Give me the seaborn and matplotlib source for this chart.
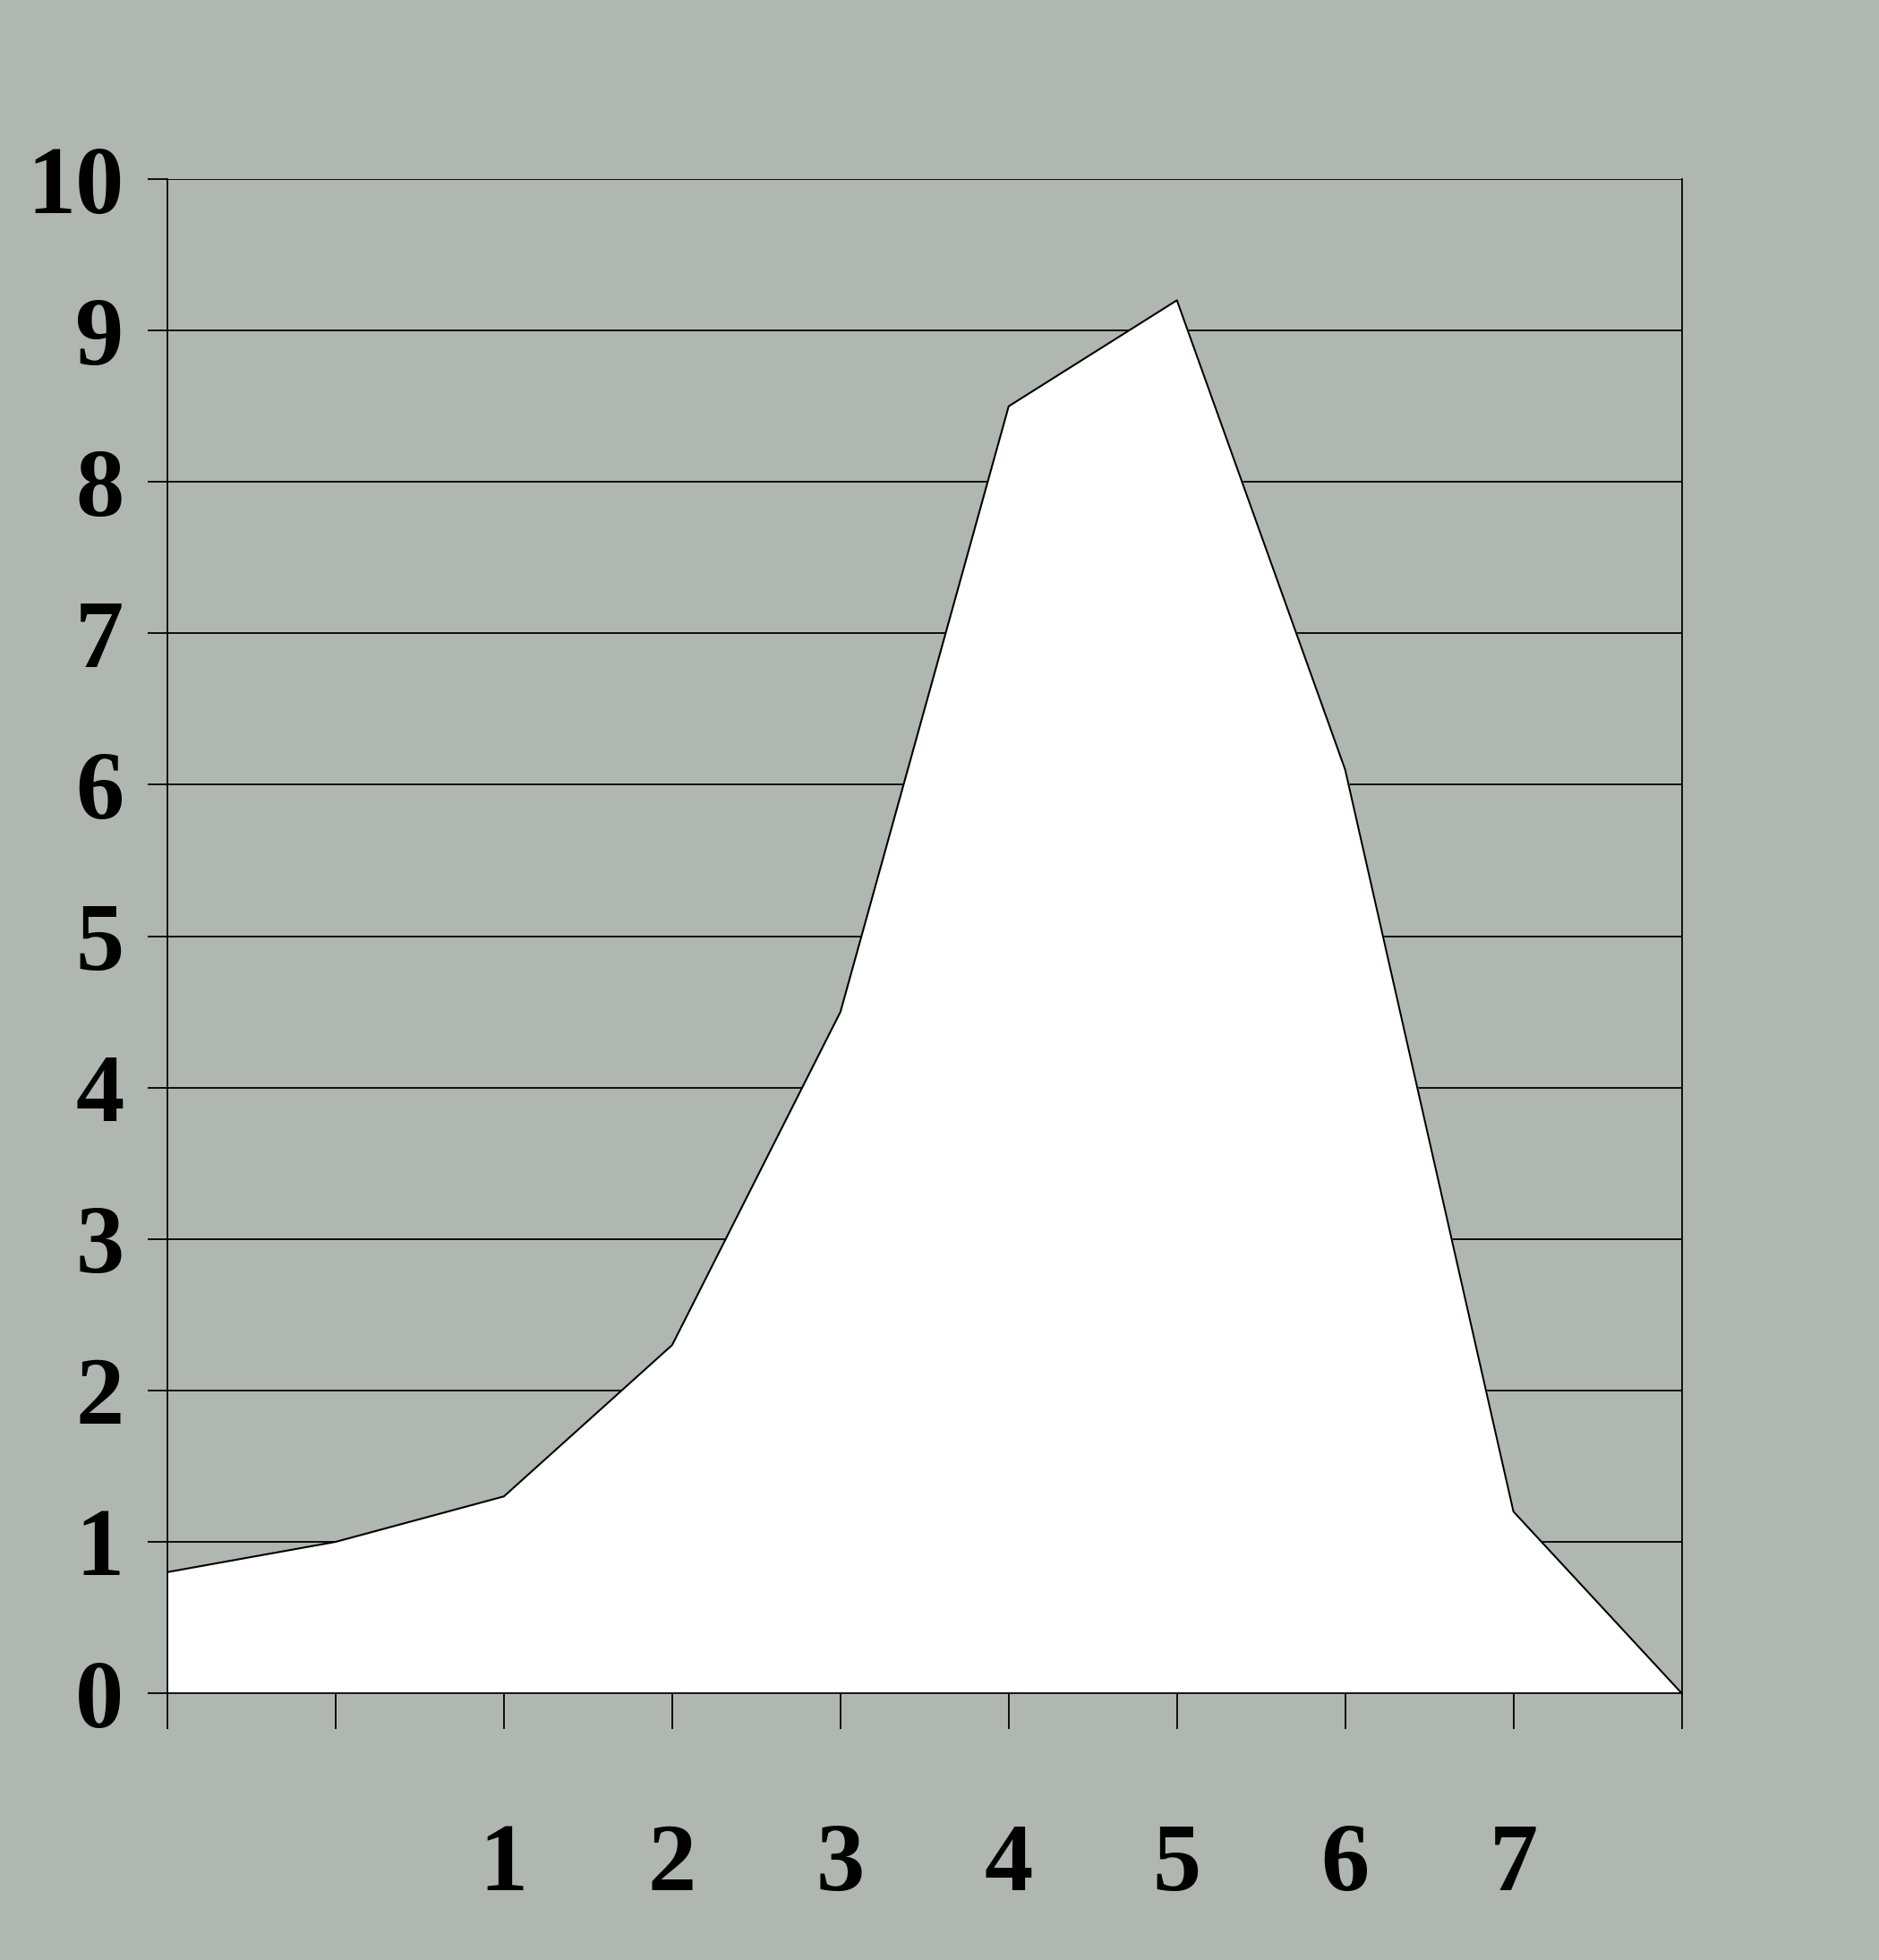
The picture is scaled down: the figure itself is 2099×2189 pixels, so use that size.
import matplotlib
matplotlib.use("Agg")
import matplotlib.pyplot as plt
import seaborn as sns
import pandas as pd

# values
positions = [0, 1, 2, 3, 4, 5, 6, 7, 8, 9]
values = [0.8, 1.0, 1.3, 2.3, 4.5, 8.5, 9.2, 6.1, 1.2, 0.0]
x_labels = ["", "", "1", "2", "3", "4", "5", "6", "7", ""]
y_ticks = [0, 1, 2, 3, 4, 5, 6, 7, 8, 9, 10]

bg = "#B0B7B0"

sns.set_style("white", {"axes.facecolor": bg, "figure.facecolor": bg,
                        "text.color": "black", "xtick.color": "black",
                        "ytick.color": "black"})
plt.rcParams['font.family'] = ['Liberation Serif', 'DejaVu Serif']

data = pd.DataFrame({"pos": positions, "value": values})

fig = plt.figure(figsize=(20.99, 21.89), dpi=100)
ax = fig.add_axes([0.0891, 0.1361, 0.8059, 0.7725])

# horizontal gridlines under the area
for y in y_ticks[1:]:
    ax.axhline(y, color="black", lw=1.3, zorder=0)

ax.fill_between(data["pos"], data["value"], 0, color="white", zorder=1)
sns.lineplot(data=data, x="pos", y="value", color="black", lw=1.5, ax=ax, zorder=2)

ax.set_xlim(0, 9)
ax.set_ylim(0, 10)
ax.set_xticks(positions)
ax.set_xticklabels(x_labels)
ax.set_yticks(y_ticks)
ax.set_yticklabels([str(v) for v in y_ticks])
ax.set_xlabel("")
ax.set_ylabel("")

ax.tick_params(axis="y", left=True, direction="out", length=16, width=1.3,
               color="black", labelcolor="black", pad=19, labelsize=78)
ax.tick_params(axis="x", bottom=True, direction="out", length=29, width=1.3,
               color="black", labelcolor="black", pad=75, labelsize=78)
for lab in ax.get_xticklabels() + ax.get_yticklabels():
    lab.set_fontweight("bold")

for side in ["left", "bottom", "right"]:
    ax.spines[side].set_visible(True)
    ax.spines[side].set_color("black")
    ax.spines[side].set_linewidth(1.3)
ax.spines["top"].set_visible(False)

fig.savefig("out.png", dpi=100, facecolor=bg)
